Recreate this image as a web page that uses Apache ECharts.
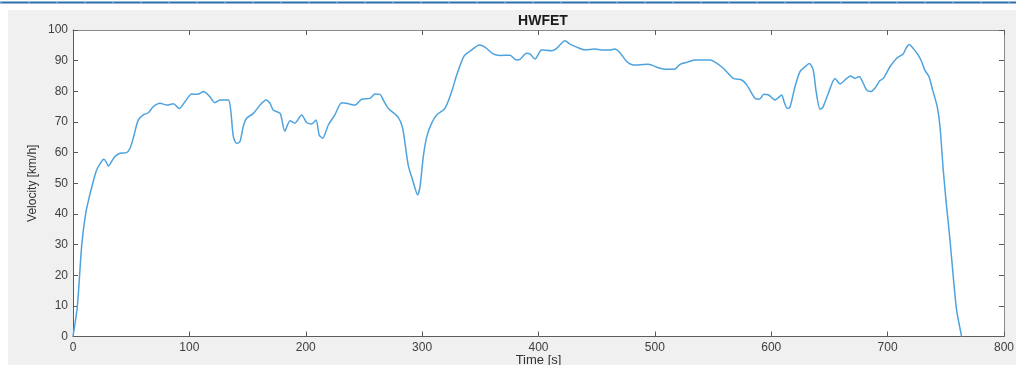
<!DOCTYPE html>
<html>
<head>
<meta charset="utf-8">
<title>HWFET</title>
<script src="https://cdn.jsdelivr.net/npm/echarts@6/dist/echarts.min.js"></script>
<style>
  html, body { margin: 0; padding: 0; background: #ffffff; }
  #chart { width: 1016px; height: 365px; }
</style>
</head>
<body>
<div id="chart"></div>
<script>
// HWFET highway driving cycle: time [s] and vehicle speed [km/h]
const timeSec = [
  0, 3.7, 7.5, 10.9, 14, 17, 20.3, 24, 26.5, 28.5, 30.4, 33, 36, 40.4, 46, 49, 52, 56, 60.4, 64.7,
  69, 74.8, 80.5, 86.2, 91.4, 96.2, 102, 106, 109, 112, 117, 122, 126.3, 133.5, 135.5, 137.8, 140.6, 143.5, 146.3, 149.2,
  155, 160.7, 165.8, 169.3, 172, 178, 182, 186.5, 190.7, 196.5, 200.8, 205, 208.8, 211.6, 214.5, 219.4, 225, 230.9, 236, 242.3,
  248, 255.2, 259.5, 263.8, 266.6, 271, 279.5, 283.3, 288, 291.9, 296.2, 298.2, 301, 304, 308.2, 312.5, 319.6, 325.4, 329.7, 336,
  342.6, 349.1, 354, 361, 367, 375.5, 381, 384, 389.8, 392.7, 397, 402.7, 411.3, 415.6, 422.7, 427, 432.8, 440, 448.5, 454.3,
  461.4, 465.7, 470, 475.8, 481.4, 494.3, 503, 510, 517.3, 521.6, 528.7, 534.5, 547.4, 551.7, 558.8, 567.4, 574.6, 578.9, 586, 589.7,
  593.7, 597.4, 603.2, 606, 609, 611, 613.8, 616, 620.4, 624.7, 629, 632.7, 636.1, 638.4, 641.9, 644.2, 649, 654.8, 659, 664.8,
  668.2, 672, 675.6, 677.7, 682, 685.4, 689.1, 693.4, 696.3, 702, 707.8, 713.4, 715.7, 718.6, 722, 726.3, 729.2, 732, 735.5, 738.7,
  742.6, 745, 747.8, 750.7, 753.6, 756.4, 759.3, 763.6
];
const velocityKmh = [
  0, 9.7, 29.8, 40.2, 45.5, 50, 54.3, 56.8, 57.8, 57, 55.6, 57, 58.7, 59.8, 60, 61.4, 65, 70.6, 72.3, 73,
  75, 76.1, 75.5, 75.9, 74.4, 76.6, 79.1, 79, 79.3, 79.9, 78.5, 76.3, 77.2, 77.2, 73.9, 65.2, 63, 63.6, 68.5, 71.2,
  72.8, 75.5, 77.2, 76.1, 73.9, 72.8, 67, 70.4, 69.6, 72.3, 69.8, 69.3, 70.6, 65.7, 64.7, 69, 72.3, 76.3, 76, 75.5,
  77.4, 77.7, 79.1, 79, 77.2, 74.4, 71.5, 67.9, 56, 51, 46.2, 48.9, 58.7, 65.2, 69.6, 72.3, 74.4, 79.9, 85.3, 91.5,
  93.5, 95.1, 94.4, 92.2, 91.7, 91.8, 90.2, 90.4, 92.4, 92.2, 90.5, 93.5, 93.2, 94, 96.5, 95.4, 94.4, 93.5, 93.8, 93.5,
  93.5, 93.8, 92.6, 89.7, 88.6, 88.8, 87.7, 87.2, 87.3, 88.8, 89.6, 90.2, 90.2, 89.5, 87.5, 84.2, 83.7, 82.1, 77.7, 77.4,
  79, 78.9, 77.2, 77.9, 78.8, 76.6, 74.4, 74.7, 81.5, 86.4, 88, 89.1, 86.9, 80.4, 74.2, 74.7, 79.3, 84.2, 82.4, 84.2,
  85, 84.2, 84.8, 83.7, 80.4, 79.9, 81, 83.5, 84.2, 88, 90.8, 92.2, 94, 95.3, 94, 91.8, 89.7, 86.9, 84.8, 80.4,
  75, 68.5, 54.3, 42.3, 31.5, 19.5, 8.6, 0
];
const xTicks = { min: 0, max: 800, interval: 100 };
const yTicks = { min: 0, max: 100, interval: 10 };

const points = timeSec.map((t, i) => [t, velocityKmh[i]]);

const axisColor = '#5c5c5c';
const fontFamily = 'Liberation Sans, Arial, sans-serif';
const labelStyle = { color: '#404040', fontSize: 12, fontFamily };

const chart = echarts.init(document.getElementById('chart'), null, { renderer: 'canvas' });
chart.setOption({
  backgroundColor: '#f0f0f0',
  animation: false,
  graphic: [
    { type: 'rect', shape: { x: 0, y: 0, width: 1016, height: 10 }, style: { fill: '#ffffff' }, silent: true },
    { type: 'rect', shape: { x: 0, y: 0, width: 8, height: 365 }, style: { fill: '#ffffff' }, silent: true },
    { type: 'line', shape: { x1: 0, y1: 2.5, x2: 1016, y2: 2.5 }, style: { stroke: '#2f6ead', lineWidth: 2 }, silent: true },
    { type: 'line', shape: { x1: 0, y1: 2.5, x2: 1016, y2: 2.5 }, style: { stroke: '#6a9fd0', lineWidth: 1, lineDash: [2, 26] }, silent: true }
  ],
  title: {
    text: 'HWFET',
    left: 538,
    top: 9,
    textAlign: 'center',
    textStyle: { fontSize: 14, fontWeight: 'bold', color: '#1a1a1a', fontFamily }
  },
  grid: {
    left: 73, right: 12, top: 30, bottom: 28.5,
    outerBoundsMode: 'none',
    containLabel: false,
    show: true, backgroundColor: '#ffffff', borderWidth: 0
  },
  xAxis: [
    {
      type: 'value', position: 'bottom', ...xTicks,
      name: 'Time [s]', nameLocation: 'middle', nameGap: 17, nameMoveOverlap: false,
      nameTextStyle: { color: '#333333', fontSize: 13, fontFamily },
      axisLine: { show: true, onZero: false, lineStyle: { color: axisColor, width: 1 } },
      axisTick: { show: true, inside: true, length: 5, lineStyle: { color: axisColor } },
      axisLabel: { ...labelStyle, margin: 5 },
      splitLine: { show: false }
    },
    {
      type: 'value', position: 'top', ...xTicks,
      axisLine: { show: true, onZero: false, lineStyle: { color: '#8a8a8a', width: 1 } },
      axisTick: { show: true, inside: true, length: 5, lineStyle: { color: axisColor } },
      axisLabel: { show: false },
      splitLine: { show: false }
    }
  ],
  yAxis: [
    {
      type: 'value', position: 'left', ...yTicks,
      name: 'Velocity [km/h]', nameLocation: 'middle', nameGap: 34, nameRotate: 90, nameMoveOverlap: false,
      nameTextStyle: { color: '#333333', fontSize: 12, fontFamily },
      axisLine: { show: true, onZero: false, lineStyle: { color: axisColor, width: 1 } },
      axisTick: { show: true, inside: true, length: 5, lineStyle: { color: axisColor } },
      axisLabel: { ...labelStyle, margin: 5 },
      splitLine: { show: false }
    },
    {
      type: 'value', position: 'right', ...yTicks,
      axisLine: { show: true, onZero: false, lineStyle: { color: '#8a8a8a', width: 1 } },
      axisTick: { show: true, inside: true, length: 5, lineStyle: { color: axisColor } },
      axisLabel: { show: false },
      splitLine: { show: false }
    }
  ],
  series: [
    {
      type: 'line',
      xAxisIndex: 0,
      yAxisIndex: 0,
      data: points,
      showSymbol: false,
      smooth: 0.25,
      lineStyle: { color: '#4ea3de', width: 1.5 },
      clip: true
    }
  ]
});
</script>
</body>
</html>
